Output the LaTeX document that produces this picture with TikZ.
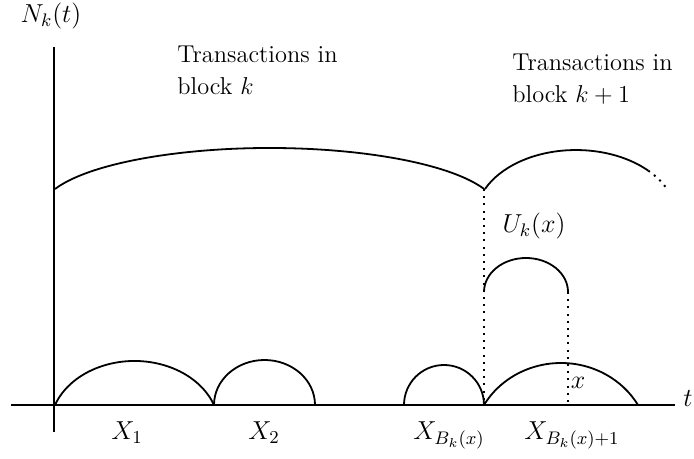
\RequirePackage{fix-cm}
\documentclass[tikz,border=0pt]{standalone}
\usepackage{amsmath, amssymb}
\usepackage{tikz}
\usetikzlibrary{calc}

\tikzset{
  curve/.style={line width=0.9pt},
  dotline/.style={line width=1pt, dash pattern=on 1pt off 2.6pt},
  blocktext/.style={anchor=north west, align=left, inner sep=0,
    font=\fontsize{12.2}{16}\selectfont}
}

\begin{document}
\fontsize{13}{16}\selectfont
\begin{tikzpicture}[x=0.5pt, y=0.5pt]
  \useasboundingbox (0,0) rectangle (694,459);
  % axes
  \draw[curve] (54,27) -- (54,412);
  \draw[curve] (11,54) -- (675,54);
  \node[anchor=base, inner sep=0] (ylab) at (51,436) {$N_k(t)$};
  \node[anchor=base, inner sep=0] (tlab) at (688,52) {$t$};
  % block arcs on top
  \draw[curve] (55,270) arc (160:20:228.3 and 62.3);
  \draw[curve] (485,270) arc (155:44:100.4 and 67.5) coordinate (cut);
  \draw[dotline] (cut) arc (44:25:100.4 and 67.5);
  \node[blocktext] (blk) at (177,413) {Transactions in\\ block $k$};
  \node[blocktext] (blknext) at (512,405) {Transactions in\\ block $k+1$};
  % interarrival arcs
  \draw[curve] (55,54) arc (160:20:84.6 and 66.9);
  \draw[curve] (214,54) arc (180:0:50.5 and 45);
  \draw[curve] (404,54) arc (180:0:40 and 40);
  \draw[curve] (484,54) arc (150:30:88.9 and 84);
  \node[anchor=base, inner sep=0] (x1) at (127,19) {$X_1$};
  \node[anchor=base, inner sep=0] (x2) at (264,19) {$X_2$};
  \node[anchor=base, inner sep=0] (xb) at (449,19) {$X_{B_k(x)}$};
  \node[anchor=base, inner sep=0] (xb1) at (572,19) {$X_{B_k(x)+1}$};
  % residual time
  \draw[dotline] (484,270) -- (484,54);
  \draw[dotline] (568,167) -- (568,54);
  \draw[curve] (484,167) arc (180:0:42 and 34);
  \node[anchor=base, inner sep=0] (ulab) at (534,226) {$U_k(x)$};
  \node[anchor=base, inner sep=0] (xlab) at (578,70) {$x$};
\end{tikzpicture}
\end{document}
